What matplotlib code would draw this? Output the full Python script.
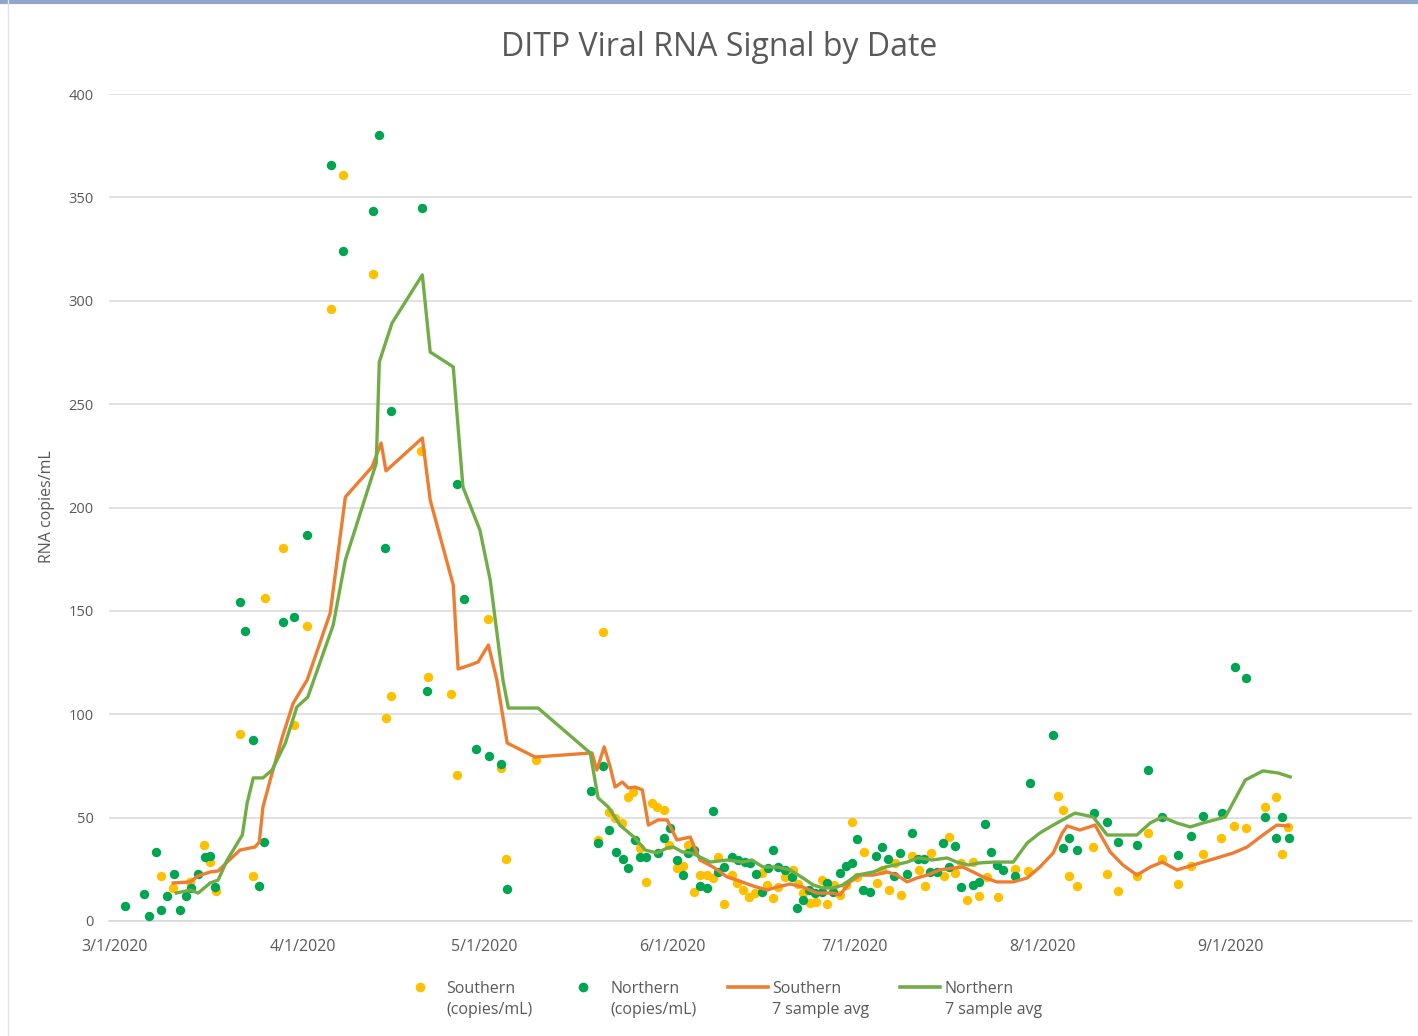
import matplotlib
matplotlib.use("Agg")
import matplotlib.pyplot as plt
import matplotlib.dates as mdates
from matplotlib.lines import Line2D
import pandas as pd

plt.rcParams['font.family'] = ['Open Sans', 'DejaVu Sans']

START = "2020-03-01"
TITLE = "DITP Viral RNA Signal by Date"
Y_LABEL = "RNA copies/mL"
LEGEND_LABELS = ["Southern\n(copies/mL)", "Northern\n(copies/mL)",
                 "Southern\n7 sample avg", "Northern\n7 sample avg"]

# Northern samples: day offset from 3/1/2020, copies/mL
north_day = [1.7, 4.8, 5.6, 6.8, 7.6, 8.6, 9.7, 10.7, 11.7, 12.5, 13.7, 14.9, 15.7, 16.5,
             20.6, 21.5, 22.8, 23.8, 24.6, 27.7, 29.5, 31.7, 35.6, 37.6, 42.6, 43.6, 44.6,
             45.5, 50.7, 51.5, 56.4, 57.6, 59.6, 61.7, 63.7, 64.7, 78.5, 80.5, 79.7, 81.5,
             82.7, 83.8, 84.7, 85.8, 86.6, 87.6, 89.6, 90.6, 91.6, 92.7, 93.7, 94.6, 95.5,
             96.5, 97.7, 98.7, 99.5, 100.5, 101.8, 102.8, 104.0, 104.8, 105.8, 106.8, 107.8,
             108.6, 109.4, 110.6, 111.7, 112.5, 113.5, 114.5, 115.5, 116.7, 117.5, 118.5,
             119.6, 120.6, 121.6, 122.4, 123.4, 124.6, 125.6, 126.6, 127.6, 128.5, 129.5,
             130.7, 131.5, 132.5, 133.5, 134.5, 135.6, 136.6, 137.6, 138.6, 139.6, 141.6,
             142.6, 143.6, 144.6, 145.5, 146.5, 148.5, 151.0, 154.8, 156.4, 157.4, 158.7,
             161.6, 163.7, 165.5, 168.6, 170.5, 172.8, 175.4, 177.6, 179.5, 182.7, 184.8,
             186.6, 189.8, 191.6, 192.6, 193.7]
north_val = [7.3, 13.1, 2.4, 33.4, 5.3, 12.1, 22.7, 5.3, 12.1, 16.0, 22.7, 31.0, 31.4, 16.4,
             154.3, 140.3, 87.5, 16.9, 38.2, 144.6, 147.0, 186.7, 365.7, 324.1, 343.4, 380.2,
             180.4, 246.7, 344.9, 111.2, 211.4, 155.7, 83.2, 79.8, 75.9, 15.5, 62.9, 75.0,
             37.7, 44.0, 33.4, 30.0, 25.6, 39.2, 31.0, 31.0, 32.9, 40.1, 45.0, 29.5, 22.2,
             32.9, 34.3, 16.9, 16.0, 53.2, 23.7, 26.1, 31.0, 29.5, 28.5, 28.1, 22.7, 14.0,
             25.6, 34.3, 26.1, 24.7, 21.3, 6.3, 10.2, 15.0, 13.5, 14.0, 18.4, 14.0, 23.2,
             26.6, 28.1, 39.7, 15.0, 14.0, 31.4, 35.8, 30.0, 21.8, 32.9, 22.7, 42.6, 30.0,
             30.0, 23.7, 23.7, 37.7, 26.1, 36.3, 16.4, 17.4, 18.9, 46.9, 33.4, 27.1, 24.7,
             21.8, 66.7, 90.0, 35.3, 40.1, 34.3, 52.2, 47.9, 38.2, 36.8, 73.0, 50.3, 31.9,
             41.1, 50.8, 52.2, 122.9, 117.5, 50.3, 40.1, 50.3, 40.1]

# Southern samples
south_day = [7.6, 9.6, 12.4, 14.7, 15.7, 16.7, 22.8, 20.6, 24.8, 27.7, 29.5, 31.7, 35.6, 37.6,
             42.6, 44.7, 45.5, 50.5, 51.7, 55.4, 56.4, 61.6, 63.7, 64.5, 69.5, 80.5, 79.7,
             81.5, 82.5, 83.7, 84.7, 85.5, 86.6, 87.6, 88.6, 89.4, 90.6, 91.4, 92.7, 93.7,
             94.6, 95.5, 96.5, 97.7, 98.7, 99.5, 100.5, 101.8, 102.6, 103.6, 104.6, 105.6,
             106.8, 107.6, 108.6, 109.4, 110.6, 111.9, 112.7, 113.5, 114.7, 115.7, 116.7,
             117.5, 118.6, 119.6, 120.6, 121.6, 122.4, 123.6, 125.7, 126.6, 127.7, 128.7,
             129.7, 131.5, 132.7, 133.6, 134.6, 136.8, 137.6, 138.6, 139.6, 140.6, 141.6,
             142.6, 143.9, 145.7, 148.5, 150.7, 155.6, 156.4, 157.4, 158.7, 161.4, 163.7,
             165.5, 168.6, 170.5, 172.8, 175.4, 177.6, 179.5, 182.5, 184.7, 186.6, 189.8,
             191.6, 192.6, 193.6]
south_val = [21.8, 16.0, 18.9, 36.8, 28.5, 14.5, 21.8, 90.4, 156.2, 180.4, 94.8, 142.7, 296.0,
             360.8, 312.9, 98.2, 108.8, 227.3, 118.0, 109.8, 70.6, 146.1, 74.0, 30.0, 77.9,
             139.8, 39.2, 52.7, 49.8, 47.4, 60.0, 62.4, 35.3, 18.9, 57.1, 55.1, 53.7, 36.8,
             25.6, 26.6, 36.8, 14.0, 22.2, 22.2, 20.8, 31.0, 8.2, 22.2, 18.4, 15.0, 11.6,
             13.5, 23.2, 17.4, 11.1, 16.4, 21.3, 24.7, 17.9, 13.5, 8.7, 9.2, 19.8, 8.2, 17.4,
             12.6, 17.4, 47.9, 21.3, 33.4, 18.4, 24.7, 15.0, 28.1, 12.6, 31.4, 24.7, 16.9,
             32.9, 21.8, 40.6, 23.2, 28.1, 10.2, 28.5, 12.1, 21.3, 11.6, 25.2, 24.2, 60.5,
             53.7, 21.8, 16.9, 35.8, 22.7, 14.5, 21.8, 42.6, 30.0, 17.9, 26.6, 32.4, 40.1,
             46.0, 45.0, 55.1, 60.0, 32.4, 45.5]

# Southern 7 sample average
south_avg_day = [9.6, 12.4, 13.7, 15.7, 17.0, 18.5, 20.6, 23.1, 23.8, 24.4, 25.6, 27.6, 29.4,
                 31.7, 35.5, 38.0, 42.4, 43.9, 44.7, 50.7, 52.0, 55.8, 56.6, 58.6, 59.9, 61.6,
                 63.0, 64.7, 69.3, 78.7, 79.5, 80.7, 81.7, 82.5, 83.7, 84.7, 85.8, 87.0, 88.0,
                 89.6, 91.1, 92.7, 94.9, 96.5, 98.7, 101.0, 102.6, 105.3, 107.6, 109.2, 111.4,
                 113.5, 115.8, 118.5, 119.6, 121.3, 122.9, 125.1, 127.4, 129.0, 130.7, 132.3,
                 134.0, 136.1, 138.3, 139.9, 141.6, 143.2, 145.5, 148.2, 150.5, 152.6, 154.8,
                 156.3, 157.1, 159.2, 161.7, 164.2, 166.3, 168.6, 170.8, 172.8, 175.2, 177.4,
                 179.5, 181.8, 184.5, 186.8, 189.4, 191.7, 193.6]
south_avg_val = [18.4, 18.9, 21.8, 23.7, 24.2, 28.5, 34.3, 35.8, 38.2, 55.1, 68.2, 89.0, 105.4,
                 116.6, 149.0, 205.1, 219.6, 231.2, 217.7, 233.6, 203.6, 162.5, 121.9, 123.8,
                 125.3, 133.5, 116.6, 86.1, 79.3, 81.3, 73.0, 84.2, 74.5, 64.8, 67.2, 64.3,
                 64.8, 63.4, 46.4, 48.9, 48.9, 39.2, 40.6, 29.5, 26.1, 21.3, 19.8, 16.9, 15.0,
                 16.4, 17.9, 16.4, 13.5, 13.5, 12.6, 18.9, 22.2, 22.2, 23.7, 22.2, 18.9, 20.8,
                 22.2, 24.7, 25.6, 26.1, 23.7, 21.3, 18.9, 18.9, 20.8, 26.1, 32.9, 42.6, 46.0,
                 44.0, 46.4, 33.4, 27.1, 22.2, 26.1, 28.5, 24.7, 26.6, 28.5, 30.5, 32.9, 35.8,
                 41.6, 46.4, 46.0]

# Northern 7 sample average
north_avg_day = [10.1, 12.4, 13.7, 15.7, 17.0, 18.5, 21.0, 21.8, 22.8, 24.4, 25.9, 28.1, 30.0,
                 31.8, 36.0, 38.0, 43.1, 43.6, 45.7, 50.7, 52.0, 55.8, 57.4, 60.2, 61.9, 64.0,
                 64.9, 69.8, 78.4, 79.7, 81.4, 83.3, 85.8, 87.5, 89.4, 91.1, 92.1, 93.6, 95.2,
                 98.2, 101.0, 103.6, 105.1, 106.9, 109.2, 111.4, 113.5, 115.2, 116.8, 118.5,
                 120.1, 122.4, 125.1, 127.1, 128.7, 130.7, 132.5, 134.8, 137.3, 138.9, 140.8,
                 142.7, 144.9, 148.2, 150.5, 152.6, 154.8, 158.4, 161.4, 163.7, 168.6, 170.8,
                 172.8, 175.2, 177.4, 179.5, 183.2, 186.5, 189.4, 191.9, 193.9]
north_avg_val = [13.5, 15.0, 13.5, 18.4, 19.8, 29.5, 41.6, 57.1, 69.2, 69.2, 73.0, 86.1, 103.5,
                 108.3, 143.2, 174.6, 221.5, 270.4, 289.2, 312.5, 275.2, 268.0, 209.9, 189.1,
                 164.9, 116.6, 103.0, 103.0, 81.3, 59.5, 55.1, 46.4, 40.1, 34.3, 32.9, 35.3,
                 35.8, 33.4, 32.9, 28.5, 29.5, 28.5, 29.5, 26.1, 26.1, 24.7, 20.8, 17.4, 16.0,
                 16.0, 17.4, 22.2, 23.7, 26.1, 27.1, 28.5, 30.5, 29.5, 30.5, 28.5, 27.1, 28.1,
                 28.5, 28.5, 37.7, 42.6, 46.4, 52.2, 50.3, 41.6, 41.6, 47.4, 50.3, 47.4, 45.5,
                 47.4, 50.3, 68.2, 72.6, 71.6, 69.7]

Y_TICKS = [0, 50, 100, 150, 200, 250, 300, 350, 400]

YELLOW = "#FFC000"
GREEN_PT = "#00A551"
ORANGE = "#ED7D31"
GREEN_LN = "#70AD47"
GRID = "#D9D9D9"
TXT = "#595959"

W, H = 1418, 1036


def to_dates(days):
    return pd.Timestamp(START) + pd.to_timedelta(days, unit="D")


def fx(px):
    return px / W


def fy(py):
    return 1 - py / H


fig = plt.figure(figsize=(W / 100, H / 100), dpi=100)
ax = fig.add_axes([fx(109), fy(921), (1412 - 109) / W, (921 - 94) / H])

ax.scatter(to_dates(south_day), south_val, s=46, color=YELLOW, zorder=3, linewidths=0)
ax.scatter(to_dates(north_day), north_val, s=46, color=GREEN_PT, zorder=3, linewidths=0)
ax.plot(to_dates(south_avg_day), south_avg_val, color=ORANGE, lw=2.4, zorder=4,
        solid_joinstyle="round")
ax.plot(to_dates(north_avg_day), north_avg_val, color=GREEN_LN, lw=2.4, zorder=4,
        solid_joinstyle="round")

ax.set_ylim(0, 400)
ax.set_yticks(Y_TICKS)
ax.set_xlim(pd.Timestamp(START) - pd.Timedelta(days=1), pd.Timestamp("2020-10-01"))
ax.xaxis.set_major_locator(mdates.MonthLocator(bymonth=[3, 4, 5, 6, 7, 8, 9]))
ax.xaxis.set_major_formatter(mdates.DateFormatter("%-m/%-d/%Y"))

ax.grid(axis="y", color=GRID, lw=1.1, zorder=0)
for s in ["top", "right", "left"]:
    ax.spines[s].set_visible(False)
ax.spines["bottom"].set_color(GRID)
ax.spines["bottom"].set_linewidth(1.1)
ax.tick_params(axis="y", length=0, pad=11, labelsize=10.5, labelcolor=TXT)
ax.tick_params(axis="x", length=0, pad=13, labelsize=11.5, labelcolor=TXT)
ax.set_axisbelow(True)

fig.text(fx(719), fy(47), TITLE, ha="center", va="center", fontsize=23, color=TXT)
fig.text(fx(47), fy(507), Y_LABEL, ha="center", va="center", rotation=90,
         fontsize=11.5, color=TXT)

# legend (placed to match the reference layout)
leg_y = 987
fig.add_artist(Line2D([fx(420)], [fy(leg_y)], transform=fig.transFigure, ls="none",
                      marker="o", markersize=7, color=YELLOW, markeredgewidth=0))
fig.add_artist(Line2D([fx(583)], [fy(leg_y)], transform=fig.transFigure, ls="none",
                      marker="o", markersize=7, color=GREEN_PT, markeredgewidth=0))
fig.add_artist(Line2D([fx(728), fx(768)], [fy(leg_y)] * 2, transform=fig.transFigure,
                      color=ORANGE, lw=2.6))
fig.add_artist(Line2D([fx(900), fx(940)], [fy(leg_y)] * 2, transform=fig.transFigure,
                      color=GREEN_LN, lw=2.6))
for tx, lab in zip([446, 610, 772, 945], LEGEND_LABELS):
    fig.text(fx(tx), fy(leg_y - 6), lab, ha="left", va="top", fontsize=11.5,
             color=TXT, linespacing=1.45)

# screenshot frame
fig.add_artist(Line2D([0, 1], [fy(1.5)] * 2, transform=fig.transFigure, color="#8FA6CF", lw=3))
fig.add_artist(Line2D([fx(8)] * 2, [0, 1], transform=fig.transFigure, color="#E3E3E3", lw=1))

fig.savefig("out.png", dpi=100, facecolor="white")
